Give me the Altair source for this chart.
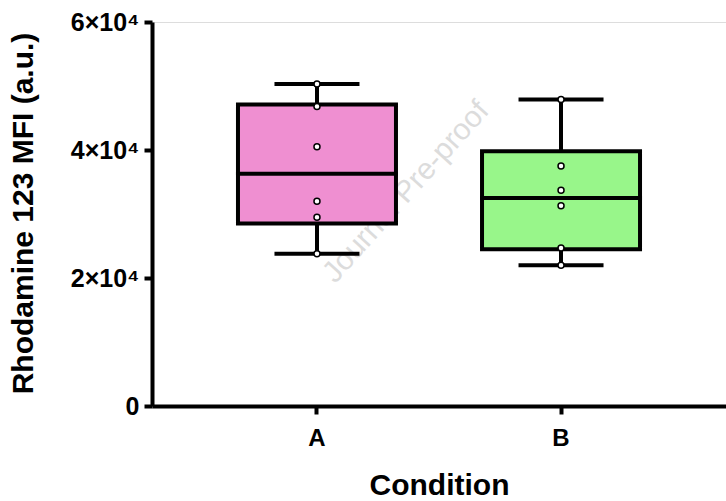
import altair as alt
import pandas as pd

# ---- data ----
conditions = ["A", "B"]
points_A = [50300, 46800, 40500, 32000, 29500, 23800]
points_B = [47900, 37500, 33700, 31300, 24700, 22000]
q1 = [28500, 24500]
median = [36300, 32500]
q3 = [47100, 39800]
whisker_min = [23800, 22000]
whisker_max = [50300, 47900]
box_colors = ["#EF8FD1", "#98F68A"]
y_ticks = [0, 20000, 40000, 60000]

summary = pd.DataFrame({
    "Condition": conditions,
    "q1": q1, "median": median, "q3": q3,
    "lo": whisker_min, "hi": whisker_max,
})
pts = pd.DataFrame({
    "Condition": ["A"] * len(points_A) + ["B"] * len(points_B),
    "value": points_A + points_B,
})

FONT = "Liberation Sans"

x_enc = alt.X(
    "Condition:N",
    sort=conditions,
    scale=alt.Scale(paddingInner=0, paddingOuter=0.176),
    axis=alt.Axis(
        title="Condition", labelAngle=0, labelFontSize=24, labelPadding=12,
        labelFont=FONT, labelFontWeight="bold", titleFont=FONT, titleFontWeight="bold",
        titleFontSize=30, titlePadding=20, tickSize=8, tickWidth=4,
        domainWidth=4, tickColor="black", domainColor="black",
        labelColor="black", titleColor="black",
    ),
)
y_scale = alt.Scale(domain=[0, 60000], nice=False, zero=True)
y_axis = alt.Axis(
    title="Rhodamine 123 MFI (a.u.)", values=y_ticks,
    labelExpr="datum.value == 0 ? '0' : (datum.value/10000) + '×10⁴'",
    labelFont=FONT, labelFontWeight="bold", titleFont=FONT, titleFontWeight="bold",
    labelFontSize=25, labelPadding=5, tickSize=8, tickWidth=4,
    domainWidth=4, tickColor="black", domainColor="black",
    labelColor="black", titleColor="black", titleFontSize=30,
    grid=False, titleX=-114, titleY=191, titleAlign="center",
    titleBaseline="bottom",
)

base = alt.Chart(summary)

upper_whisker = base.mark_rule(color="black", strokeWidth=4).encode(
    x=x_enc, y=alt.Y("q3:Q", scale=y_scale, axis=y_axis), y2="hi:Q")
lower_whisker = base.mark_rule(color="black", strokeWidth=4).encode(
    x=alt.X("Condition:N", sort=conditions), y="lo:Q", y2="q1:Q")
caps_hi = base.mark_tick(color="black", size=85, thickness=4, opacity=1).encode(
    x=alt.X("Condition:N", sort=conditions), y="hi:Q")
caps_lo = base.mark_tick(color="black", size=85, thickness=4, opacity=1).encode(
    x=alt.X("Condition:N", sort=conditions), y="lo:Q")
boxes = base.mark_bar(size=158, stroke="black", strokeWidth=4, opacity=1).encode(
    x=alt.X("Condition:N", sort=conditions), y="q1:Q", y2="q3:Q",
    fill=alt.Fill("Condition:N", scale=alt.Scale(domain=conditions, range=box_colors), legend=None),
)
med = base.mark_tick(color="black", size=162, thickness=4, opacity=1).encode(
    x=alt.X("Condition:N", sort=conditions), y="median:Q")
points = alt.Chart(pts).mark_point(
    filled=True, fill="white", stroke="black", strokeWidth=1.5, size=36, opacity=1
).encode(x=alt.X("Condition:N", sort=conditions), y="value:Q")

watermark = alt.Chart(pd.DataFrame({"t": ["Journal Pre-proof"]})).mark_text(
    font=FONT, fontSize=30, color="#dcdcdc", angle=312, align="center", baseline="middle"
).encode(text="t:N", x=alt.value(254), y=alt.value(170))

chart = alt.layer(
    watermark, upper_whisker, lower_whisker, caps_hi, caps_lo, boxes, med, points
).properties(
    width=574, height=384,
    autosize=alt.AutoSizeParams(type="none"),
    padding={"left": 152, "top": 22, "right": 0, "bottom": 95},
).configure_view(stroke=None).configure(background="white")

chart.save("out.html", embed_options={"renderer": "svg", "actions": False})
